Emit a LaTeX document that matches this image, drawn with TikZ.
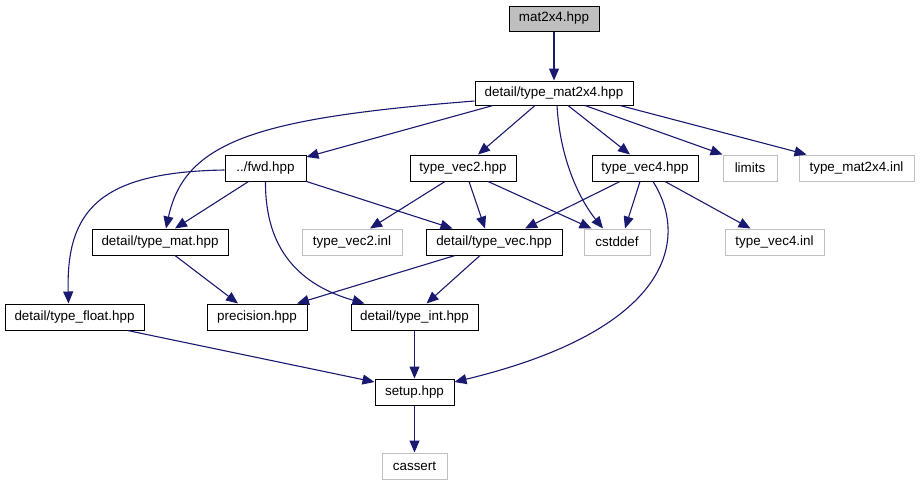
\documentclass[tikz,border=0pt]{standalone}
\usepackage{fontspec}
\setmainfont{Liberation Sans}
\usetikzlibrary{arrows.meta}
\definecolor{edgec}{HTML}{191970}
\definecolor{grayc}{HTML}{BFBFBF}
\tikzset{
  box/.style={draw=black, line width=1pt, inner sep=0pt, minimum height=26pt, font=\fontsize{13.4pt}{15pt}\selectfont, text=black},
  sysbox/.style={box, draw=grayc},
  dep/.style={draw=edgec, line width=1.1pt, -{Triangle[length=12pt,width=10pt]}},
}
\begin{document}
\begin{tikzpicture}[x=1pt,y=-1pt]
\useasboundingbox (0,0) rectangle (920,485);
% nodes
\node[box, fill=grayc, minimum width=90pt, minimum height=25pt] (m) at (554,18.5) {mat2x4.hpp};
\node[box, minimum width=158pt, minimum height=24pt] (tm) at (554,93) {detail/type\_mat2x4.hpp};
\node[box, minimum width=81pt] (fwd) at (265.5,168) {../fwd.hpp};
\node[box, minimum width=106pt] (v2) at (463,168) {type\_vec2.hpp};
\node[box, minimum width=106pt] (v4) at (645,168) {type\_vec4.hpp};
\node[sysbox, minimum width=54pt] (lim) at (750,168) {limits};
\node[sysbox, minimum width=115pt] (tminl) at (856.5,168) {type\_mat2x4.inl};
\node[box, minimum width=136pt] (tmat) at (160,242) {detail/type\_mat.hpp};
\node[sysbox, minimum width=100pt] (v2inl) at (352,242) {type\_vec2.inl};
\node[box, minimum width=136pt] (tvec) at (494,242) {detail/type\_vec.hpp};
\node[sysbox, minimum width=66pt] (cst) at (617,242) {cstddef};
\node[sysbox, minimum width=99pt] (v4inl) at (774.5,242) {type\_vec4.inl};
\node[box, minimum width=139pt] (tfl) at (74.5,317) {detail/type\_float.hpp};
\node[box, minimum width=100pt] (prec) at (257,317) {precision.hpp};
\node[box, minimum width=127pt] (tint) at (414.5,317) {detail/type\_int.hpp};
\node[box, minimum width=79pt] (setup) at (414.5,392) {setup.hpp};
\node[sysbox, minimum width=65pt] (cas) at (414.5,466) {cassert};
% edges
\draw[dep] (m.south) -- (tm.north);
\draw[dep] ([xshift=-61pt]tm.south) -- ([yshift=11pt]fwd.east);
\draw[dep] ([yshift=-8pt]tm.west) .. controls (260,118) and (185,140) .. ([xshift=6pt]tmat.north);
\draw[dep] ([xshift=-19pt]tm.south) -- ([xshift=15pt]v2.north);
\draw[dep] ([xshift=3pt]tm.south) .. controls (560,160) and (580,200) .. ([xshift=-14pt]cst.north);
\draw[dep] ([xshift=14pt]tm.south) -- ([xshift=-15pt]v4.north);
\draw[dep] ([xshift=31pt]tm.south) -- (lim.north west);
\draw[dep] ([xshift=66pt]tm.south) -- ([xshift=8pt]tminl.north west);
\draw[dep] ([xshift=-17pt]fwd.south) -- ([xshift=15pt]tmat.north);
\draw[dep] ([yshift=-2pt]fwd.west) .. controls (100,172) and (66,210) .. ([xshift=-6pt]tfl.north);
\draw[dep] (fwd.south east) -- ([xshift=27pt]tvec.north west);
\draw[dep] (fwd.south) .. controls (265,250) and (300,285) .. ([xshift=-50pt]tint.north);
\draw[dep] ([xshift=-18pt]v2.south) -- ([xshift=18pt]v2inl.north);
\draw[dep] ([xshift=6pt]v2.south) -- ([xshift=-9pt]tvec.north);
\draw[dep] ([xshift=25pt]v2.south) -- ([xshift=8pt]cst.north west);
\draw[dep] ([xshift=-25pt]v4.south) -- ([xshift=31pt]tvec.north);
\draw[dep] ([xshift=-5pt]v4.south) -- ([xshift=8pt]cst.north);
\draw[dep] ([xshift=20pt]v4.south) -- ([xshift=-24pt]v4inl.north);
\draw[dep] ([xshift=8pt]v4.south) .. controls (690,240) and (670,330) .. ([yshift=10pt]setup.east);
\draw[dep] ([xshift=15pt]tmat.south) -- ([xshift=-19pt]prec.north);
\draw[dep] ([xshift=-39pt]tvec.south) -- ([xshift=40pt]prec.north);
\draw[dep] ([xshift=-14pt]tvec.south) -- ([xshift=12pt]tint.north);
\draw[dep] (tint.south) -- (setup.north);
\draw[dep] ([xshift=53pt]tfl.south) -- ([yshift=10pt]setup.west);
\draw[dep] (setup.south) -- (cas.north);
\end{tikzpicture}
\end{document}
